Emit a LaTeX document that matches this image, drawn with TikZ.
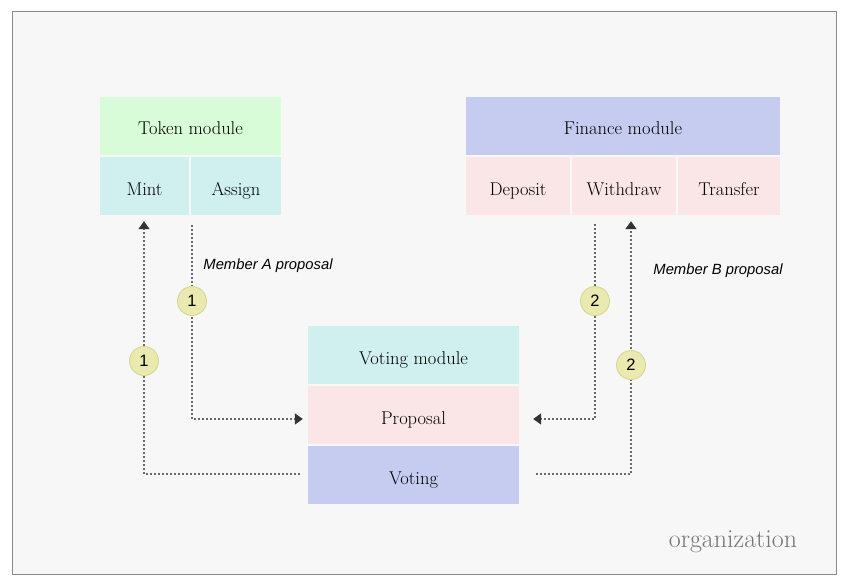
\documentclass[tikz,border=0pt]{standalone}
\usepackage{fontspec}
\newfontfamily\lab{Liberation Sans}
\usetikzlibrary{arrows.meta}
\definecolor{bgc}{HTML}{F7F7F7}
\definecolor{framec}{HTML}{8A8A8A}
\definecolor{greenc}{HTML}{D8FBD8}
\definecolor{cyanc}{HTML}{D0EFEF}
\definecolor{pinkc}{HTML}{FAE6E6}
\definecolor{bluec}{HTML}{C6CCF0}
\definecolor{circf}{HTML}{E9E9B0}
\definecolor{circd}{HTML}{D6D68C}
\definecolor{linec}{HTML}{6A6A6A}
\definecolor{tipc}{HTML}{333333}
\tikzset{
  cell/.style={rectangle, inner sep=0pt, minimum height=58pt, text height=18pt, text depth=0pt, font=\fontsize{18.5}{22}\selectfont},
  dotline/.style={draw=linec, line width=1.5pt, dash pattern=on 1.5pt off 2.5pt},
  tip/.style={-{Triangle[length=8pt,width=11pt,color=tipc]}},
  badge/.style={circle, fill=circf, draw=circd, line width=0.8pt, minimum size=29pt, inner sep=0pt, font=\lab\fontsize{16.5}{19}\selectfont},
  note/.style={font=\lab\itshape\fontsize{14.8}{17}\selectfont, inner sep=0pt},
}
\begin{document}
\begin{tikzpicture}[x=1pt,y=-1pt]
\useasboundingbox (0,0) rectangle (850,588);
\fill[white] (0,0) rectangle (850,588);
\draw[framec, fill=bgc, line width=1pt] (12,12) rectangle (836,574);

% Token module
\node[cell, fill=greenc, minimum width=181pt] (tok) at (190.5,126) {Token module};
\node[cell, fill=cyanc, minimum width=89pt] (mint) at (144.5,186) {Mint};
\node[cell, fill=cyanc, minimum width=90pt] (assign) at (236,186) {Assign};

% Finance module
\node[cell, fill=bluec, minimum width=314pt] (fin) at (623,126) {Finance module};
\node[cell, fill=pinkc, minimum width=104pt] (dep) at (518,186) {Deposit};
\node[cell, fill=pinkc, minimum width=104pt] (wd) at (624,186) {Withdraw};
\node[cell, fill=pinkc, minimum width=102pt] (tr) at (729,186) {Transfer};

% Voting module
\node[cell, fill=cyanc, minimum width=211pt] (vm) at (413.5,355) {Voting module};
\node[cell, fill=pinkc, minimum width=211pt] (prop) at (413.5,415) {Proposal};
\node[cell, fill=bluec, minimum width=211pt] (vot) at (413.5,475) {Voting};

% connectors
\coordinate (aS) at ([yshift=-10pt]assign.south west);
\coordinate (wS) at ([xshift=-29pt,yshift=-9pt]wd.south);
\draw[dotline, tip] ([xshift=-8pt,yshift=1pt]vot.west) -| ([xshift=-0.5pt,yshift=-6pt]mint.south);
\draw[dotline, tip] ([xshift=1pt]aS) |- ([xshift=-5pt,yshift=-4pt]prop.west);
\draw[dotline, tip] (wS) |- ([xshift=14pt,yshift=-4pt]prop.east);
\draw[dotline, tip] ([xshift=17pt,yshift=1pt]vot.east) -| ([xshift=7pt,yshift=-6pt]wd.south);

% badges
\node[badge] (b1a) at (192,301) {1};
\node[badge] (b1b) at (144,361) {1};
\node[badge] (b2a) at (595,301) {2};
\node[badge] (b2b) at (631,365) {2};

% labels
\node[note] (la) at (268,266) {Member A proposal};
\node[note] (lb) at (718,271) {Member B proposal};
\node[text=framec!85!black, font=\fontsize{26}{30}\selectfont, inner sep=0pt] (org) at (733,542) {organization};
\end{tikzpicture}
\end{document}
